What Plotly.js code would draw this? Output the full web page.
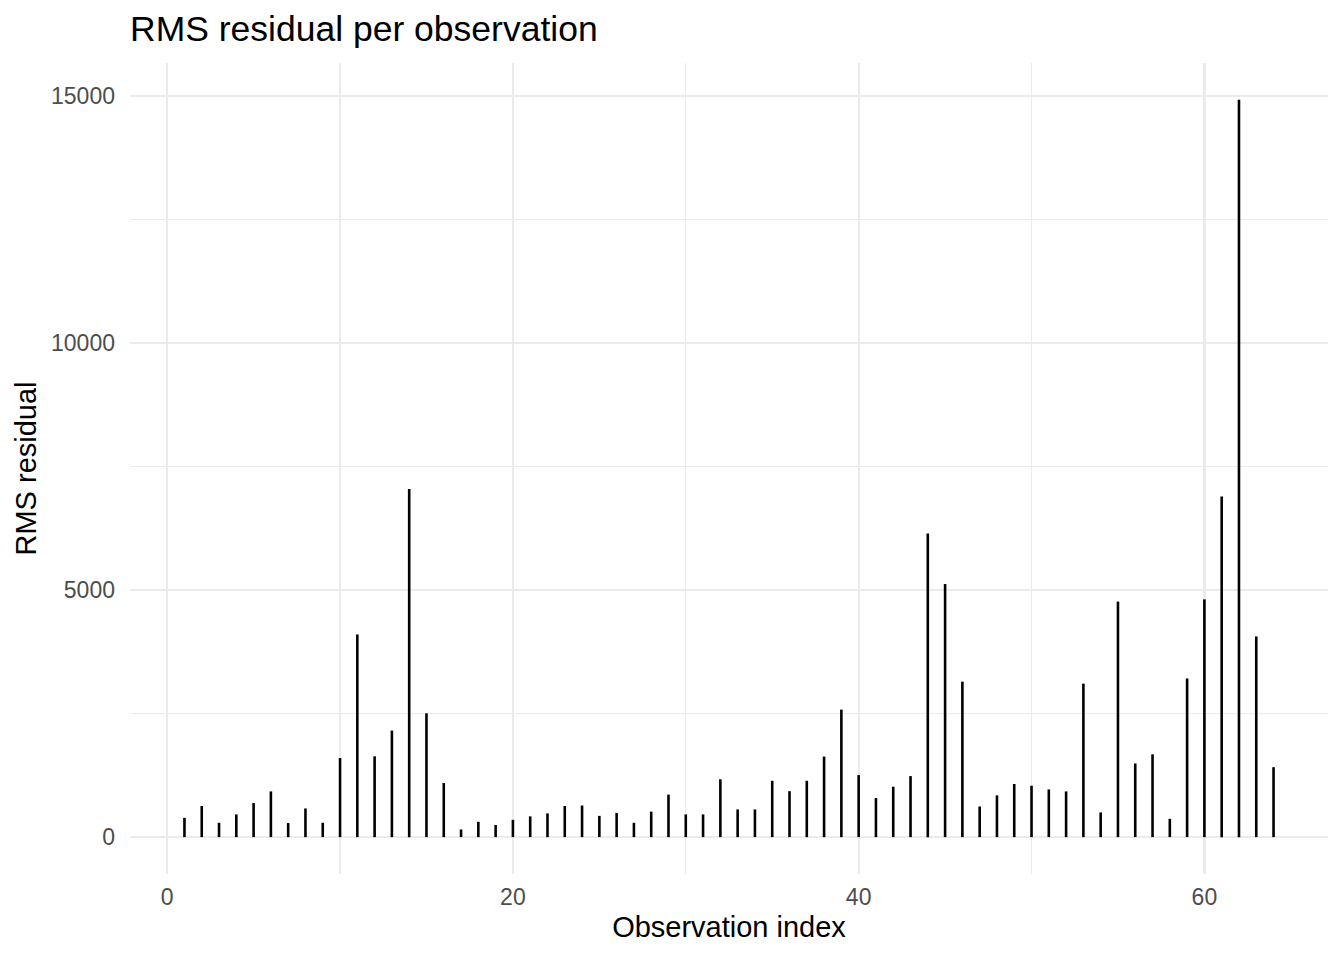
<!DOCTYPE html>
<html>
<head>
<meta charset="utf-8">
<script src="https://cdn.plot.ly/plotly-3.0.1.min.js"></script>
<style>
  html, body { margin: 0; padding: 0; background: #ffffff; }
  #chart { width: 1344px; height: 960px; }
</style>
</head>
<body>
<div id="chart"></div>
<script>
// observation index and RMS residual
const obsIndex = [
   1,  2,  3,  4,  5,  6,  7,  8,  9, 10, 11, 12, 13, 14, 15, 16,
  17, 18, 19, 20, 21, 22, 23, 24, 25, 26, 27, 28, 29, 30, 31, 32,
  33, 34, 35, 36, 37, 38, 39, 40, 41, 42, 43, 44, 45, 46, 47, 48,
  49, 50, 51, 52, 53, 54, 55, 56, 57, 58, 59, 60, 61, 62, 63, 64
];
const rmsResidual = [
   390,  630,  290,  460,  690,  925,  285,  580,  290, 1600,
  4100, 1635, 2155, 7045, 2505, 1095,  155,  310,  245,  350,
   420,  480,  630,  640,  430,  490,  290,  515,  860,  460,
   460, 1170,  560,  560, 1140,  930, 1140, 1630, 2580, 1255,
   790, 1020, 1235, 6140, 5120, 3145,  620,  845, 1075, 1040,
   965,  925, 3105,  500, 4765, 1490, 1675,  370, 3210, 4810,
  6890, 14915, 4060, 1415
];
const xTicks = [0, 20, 40, 60];
const yTicks = [0, 5000, 10000, 15000];

// one vertical segment per observation, split by nulls
const segX = [], segY = [];
obsIndex.forEach((x, i) => {
    segX.push(x, x, null);
    segY.push(0, rmsResidual[i], null);
});

const FONT = 'Liberation Sans, Arial, sans-serif';
const GRID = '#ebebeb';

const trace = {
    type: 'scatter',
    mode: 'lines',
    x: segX,
    y: segY,
    line: { color: '#000000', width: 2.6 },
    hoverinfo: 'skip',
    showlegend: false
};

const layout = {
    width: 1344,
    height: 960,
    margin: { l: 130, r: 16, t: 63, b: 86 },
    paper_bgcolor: '#ffffff',
    plot_bgcolor: '#ffffff',
    showlegend: false,
    hovermode: false,
    title: {
        text: 'RMS residual per observation',
        font: { family: FONT, size: 35.5, color: '#000000' },
        x: 130 / 1344, xref: 'container', xanchor: 'left',
        y: 1 - 29 / 960, yref: 'container', yanchor: 'middle'
    },
    xaxis: {
        range: [-2.15, 67.15],
        tickvals: xTicks,
        ticktext: xTicks.map(String),
        showgrid: true, gridcolor: GRID, gridwidth: 2.2,
        minor: { dtick: 10, tick0: 0, showgrid: true, gridcolor: GRID, gridwidth: 1.1 },
        zeroline: false, showline: false, ticks: '',
        ticklabelstandoff: 7,
        tickfont: { family: FONT, size: 23, color: '#4d4d4d' },
        title: {
            text: 'Observation index',
            font: { family: FONT, size: 29, color: '#000000' },
            standoff: 7
        }
    },
    yaxis: {
        range: [-746, 15661],
        tickvals: yTicks,
        ticktext: yTicks.map(String),
        showgrid: true, gridcolor: GRID, gridwidth: 2.2,
        minor: { dtick: 2500, tick0: 0, showgrid: true, gridcolor: GRID, gridwidth: 1.1 },
        zeroline: false, showline: false, ticks: '',
        ticklabelstandoff: 14,
        tickfont: { family: FONT, size: 23, color: '#4d4d4d' },
        title: {
            text: 'RMS residual',
            font: { family: FONT, size: 29, color: '#000000' },
            standoff: 5
        }
    }
};

Plotly.newPlot('chart', [trace], layout, { displayModeBar: false, staticPlot: true });
</script>
</body>
</html>
